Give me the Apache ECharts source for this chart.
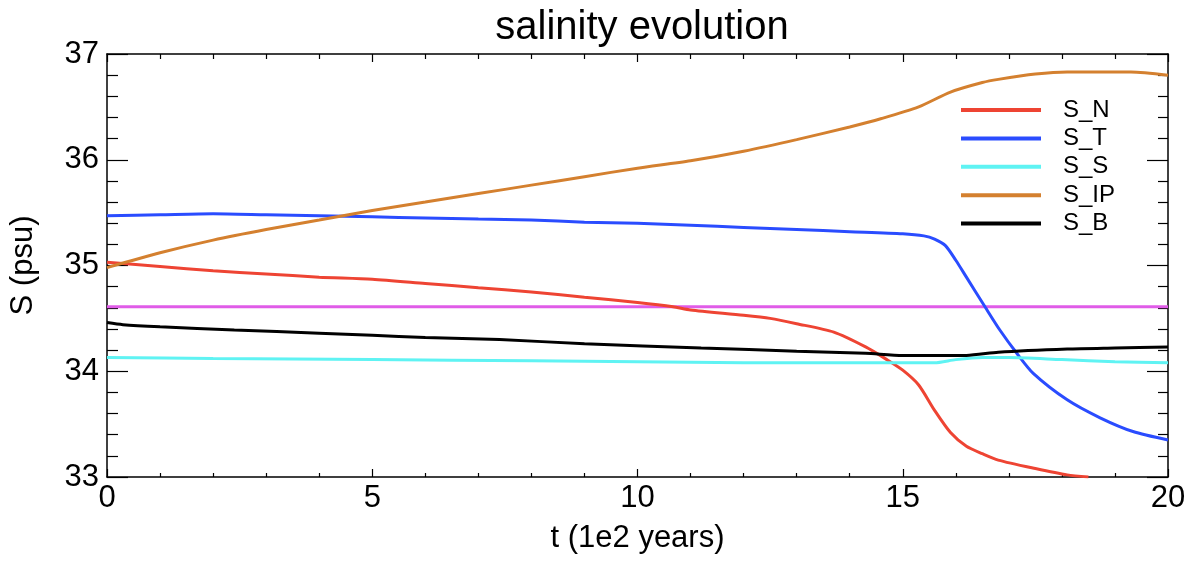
<!DOCTYPE html>
<html>
<head>
<meta charset="utf-8">
<script src="https://cdn.jsdelivr.net/npm/echarts@6/dist/echarts.min.js"></script>
<style>
html,body{margin:0;padding:0;background:#fff;}
#chart{width:1198px;height:562px;}
</style>
</head>
<body>
<div id="chart"></div>
<script>
// ---- data ----
const tN  = [0, 1, 2, 3, 4, 5, 6, 7, 8, 9, 10, 10.67, 11, 12, 12.5, 13, 13.7, 14.3, 14.7, 15, 15.3, 15.6, 15.9, 16.2, 16.5, 16.8, 17.5, 18.1, 18.5];
const sN  = [35.03, 34.99, 34.95, 34.92, 34.89, 34.87, 34.83, 34.79, 34.75, 34.70, 34.65, 34.61, 34.58, 34.53, 34.50, 34.45, 34.37, 34.23, 34.11, 34.01, 33.87, 33.63, 33.42, 33.29, 33.22, 33.16, 33.08, 33.02, 33.00];

const tT  = [0, 1, 2, 3, 4, 5, 6, 7, 8, 9, 10, 11, 12, 13, 14, 15, 15.4, 15.6, 15.8, 16.0, 16.2, 16.55, 16.83, 17.15, 17.46, 18.1, 18.72, 19.34, 20];
const sT  = [35.47, 35.48, 35.49, 35.48, 35.47, 35.46, 35.45, 35.44, 35.43, 35.41, 35.40, 35.38, 35.36, 35.34, 35.32, 35.30, 35.28, 35.25, 35.19, 35.05, 34.89, 34.61, 34.39, 34.17, 33.98, 33.73, 33.56, 33.43, 33.35];

const tS  = [0, 2, 5, 8, 10, 12, 15, 15.6, 16, 16.5, 17, 18, 19, 20];
const sS  = [34.13, 34.12, 34.11, 34.10, 34.09, 34.08, 34.08, 34.08, 34.11, 34.13, 34.13, 34.11, 34.09, 34.08];

const tIP = [0, 1, 2, 3, 4, 5, 6, 7, 8, 9, 10, 11, 12, 13, 14, 14.6, 15.3, 15.9, 16.5, 16.8, 17.5, 18.1, 19.3, 20];
const sIP = [34.98, 35.12, 35.24, 35.34, 35.43, 35.52, 35.60, 35.68, 35.76, 35.84, 35.92, 35.99, 36.08, 36.19, 36.31, 36.39, 36.50, 36.64, 36.73, 36.76, 36.81, 36.83, 36.83, 36.80];

const tB  = [0, 0.3, 1, 2.4, 4, 5, 6, 7.4, 9, 11.2, 13, 14.3, 15, 16.2, 16.8, 18.1, 19, 20];
const sB  = [34.46, 34.44, 34.42, 34.39, 34.36, 34.34, 34.32, 34.30, 34.26, 34.22, 34.19, 34.17, 34.15, 34.15, 34.18, 34.21, 34.22, 34.23];

const tRef = [0, 20];
const sRef = [34.61, 34.61];

const seriesNames  = ['S_N', 'S_T', 'S_S', 'S_IP', 'S_B'];
const seriesColors = ['#ee4433', '#2a4cff', '#5ff3f3', '#d4802f', '#000000'];
const xTicks = [0, 5, 10, 15, 20];
const yTicks = [33, 34, 35, 36, 37];

function pairs(t, s) { return t.map((v, i) => [v, s[i]]); }

const chart = echarts.init(document.getElementById('chart'), null, {renderer: 'canvas'});
const FONT = 'Liberation Sans, Arial, Helvetica, sans-serif';

const lineSeries = (name, t, s, color) => ({
  name, type: 'line', data: pairs(t, s), showSymbol: false, symbol: 'none',
  smooth: 0.25, lineStyle: {color, width: 3}, itemStyle: {color},
  xAxisIndex: 0, yAxisIndex: 0, animation: false
});

const axisCommon = {
  type: 'value',
  axisLine: {show: true, onZero: false, lineStyle: {color: '#000', width: 1.5}},
  splitLine: {show: false}
};

chart.setOption({
  backgroundColor: '#fff',
  animation: false,
  title: {
    text: 'salinity evolution', left: 637, top: 3, textAlign: 'center',
    textStyle: {fontFamily: FONT, fontSize: 40, fontWeight: 'normal', color: '#000'}
  },
  grid: {left: 107, right: 30, top: 54, bottom: 85, containLabel: false},
  legend: {
    data: seriesNames, orient: 'vertical', left: 956, top: 93,
    icon: 'rect', itemWidth: 80, itemHeight: 4, itemGap: 4.4,
    textStyle: {fontFamily: FONT, fontSize: 24, color: '#000', padding: [0, 0, 0, 17]}
  },
  xAxis: [
    Object.assign({}, axisCommon, {
      position: 'bottom', min: xTicks[0], max: xTicks[xTicks.length - 1], interval: 5,
      name: 't (1e2 years)', nameLocation: 'middle', nameGap: 46,
      nameTextStyle: {fontFamily: FONT, fontSize: 31, color: '#000'},
      axisTick: {show: true, inside: true, length: 8, lineStyle: {color: '#000', width: 1.2}},
      minorTick: {show: true, splitNumber: 5, length: 4, lineStyle: {color: '#000', width: 1.2}},
      axisLabel: {fontFamily: FONT, fontSize: 31, color: '#000', margin: 6}
    }),
    Object.assign({}, axisCommon, {
      position: 'top', min: xTicks[0], max: xTicks[xTicks.length - 1], interval: 5,
      axisTick: {show: true, inside: true, length: 8, lineStyle: {color: '#000', width: 1.2}},
      minorTick: {show: true, splitNumber: 5, length: 5, lineStyle: {color: '#000', width: 1.2}},
      axisLabel: {show: false}
    })
  ],
  yAxis: [
    Object.assign({}, axisCommon, {
      position: 'left', min: yTicks[0], max: yTicks[yTicks.length - 1], interval: 1,
      name: 'S (psu)', nameLocation: 'middle', nameGap: 68, nameRotate: 90,
      nameTextStyle: {fontFamily: FONT, fontSize: 31, color: '#000'},
      axisTick: {show: true, inside: true, length: 21, lineStyle: {color: '#000', width: 1.2}},
      minorTick: {show: true, splitNumber: 5, length: 11, lineStyle: {color: '#000', width: 1.2}},
      axisLabel: {fontFamily: FONT, fontSize: 31, color: '#000', margin: 8}
    }),
    Object.assign({}, axisCommon, {
      position: 'right', min: yTicks[0], max: yTicks[yTicks.length - 1], interval: 1,
      axisTick: {show: true, inside: true, length: 21, lineStyle: {color: '#000', width: 1.2}},
      minorTick: {show: true, splitNumber: 5, length: 10, lineStyle: {color: '#000', width: 1.2}},
      axisLabel: {show: false}
    })
  ],
  series: [
    {
      name: 'ref', type: 'line', data: pairs(tRef, sRef), showSymbol: false, symbol: 'none',
      lineStyle: {color: '#e05ce8', width: 3}, itemStyle: {color: '#e05ce8'}, animation: false
    },
    lineSeries(seriesNames[0], tN, sN, seriesColors[0]),
    lineSeries(seriesNames[1], tT, sT, seriesColors[1]),
    lineSeries(seriesNames[2], tS, sS, seriesColors[2]),
    lineSeries(seriesNames[3], tIP, sIP, seriesColors[3]),
    lineSeries(seriesNames[4], tB, sB, seriesColors[4])
  ]
});
</script>
</body>
</html>
